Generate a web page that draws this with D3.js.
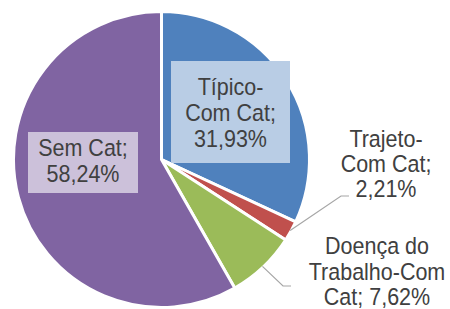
<!DOCTYPE html>
<html><head><meta charset="utf-8">
<script src="https://cdn.jsdelivr.net/npm/d3@7/dist/d3.min.js"></script>
<style>html,body{margin:0;padding:0;background:#fff;overflow:hidden}</style>
</head><body>
<svg id="chart" width="450" height="309"></svg>
<script>
const categories = ["Típico-Com Cat", "Trajeto-Com Cat", "Doença do Trabalho-Com Cat", "Sem Cat"];
const values = [31.93, 2.21, 7.62, 58.24];
const labelLines = [["Típico-", "Com Cat;", "31,93%"], ["Trajeto-", "Com Cat;", "2,21%"], ["Doença do", "Trabalho-Com", "Cat; 7,62%"], ["Sem Cat;", "58,24%"]];
const colors = ["#4f81bd", "#c0504d", "#9bbb59", "#8064a2"];
const boxFills = ["#b9cde5", null, null, "#ccc1da"];

const svg = d3.select("#chart");
const cx = 161.5, cy = 159.5, R = 148;
const g = svg.append("g").attr("transform", `translate(${cx},${cy})`);

const pie = d3.pie().sort(null).value(d => d.v);
const arcs = pie(categories.map((c, i) => ({c, v: values[i], i})));
const arc = d3.arc().innerRadius(0).outerRadius(R);

g.selectAll("path.slice").data(arcs).enter().append("path")
  .attr("class", "slice")
  .attr("d", arc)
  .attr("fill", d => colors[d.data.i])
  .attr("stroke", "#fff").attr("stroke-width", 3).attr("stroke-linejoin", "round");

// label layout (absolute page coords)
const layout = [
  {x: 230.5, y: 94.5, lh: 26, box: {l: 171, r: 290, t: 61, b: 163}},
  {x: 386, y: 146.5, lh: 25.3, leader: [[341, 196], [349, 196]]},
  {x: 377, y: 254, lh: 25.5, leader: [[283, 286], [291, 286]]},
  {x: 83, y: 156, lh: 26, box: {l: 28, r: 138, t: 132, b: 193}}
];

const lg = svg.append("g");
arcs.forEach((a, k) => {
  const i = a.data.i, L = layout[i];
  if (L.box && boxFills[i]) {
    lg.append("rect").attr("x", L.box.l).attr("y", L.box.t)
      .attr("width", L.box.r - L.box.l).attr("height", L.box.b - L.box.t)
      .attr("fill", boxFills[i]);
  }
  if (L.leader) {
    const mid = (a.startAngle + a.endAngle) / 2;
    const p0 = [cx + (R - 1) * Math.sin(mid), cy - (R - 1) * Math.cos(mid)];
    const pts = [p0].concat(L.leader);
    lg.append("path").attr("d", d3.line()(pts))
      .attr("fill", "none").attr("stroke", "#a6a6a6").attr("stroke-width", 1.2);
  }
  labelLines[i].forEach((t, j) => {
    lg.append("text")
      .attr("transform", `translate(${L.x},${L.y + j * L.lh}) scale(1,1.08)`)
      .attr("text-anchor", "middle")
      .attr("font-family", "'Liberation Sans', Arial, sans-serif")
      .attr("font-size", 21.5)
      .attr("fill", "#404040")
      .text(t);
  });
});
</script>
</body></html>
